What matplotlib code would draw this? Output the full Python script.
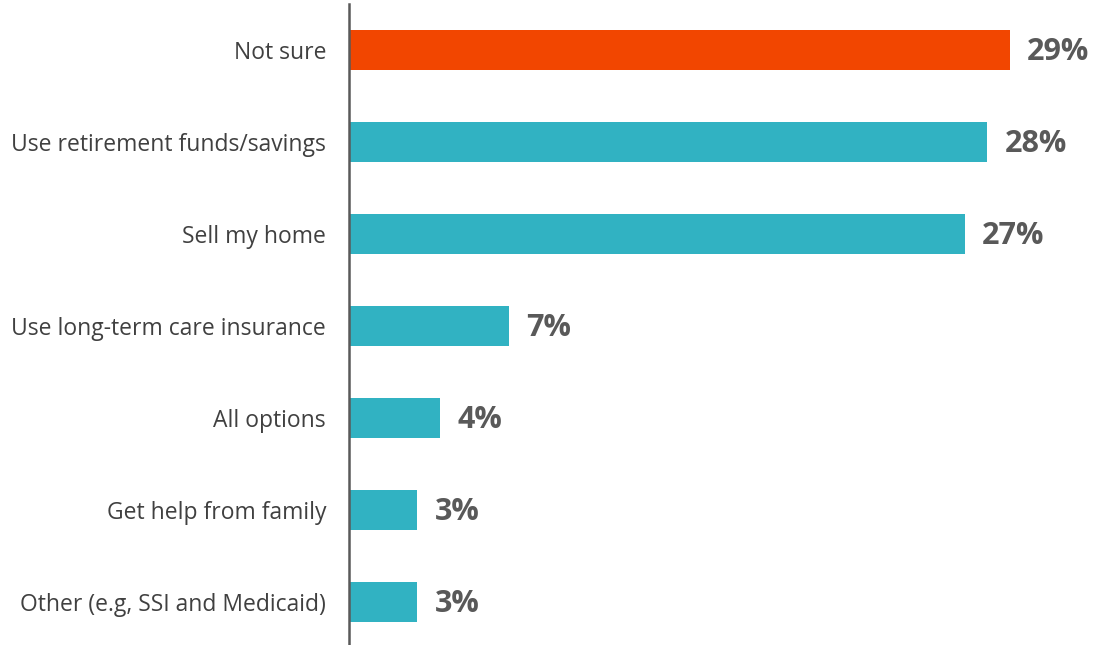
import matplotlib
matplotlib.use("Agg")
import matplotlib.pyplot as plt

categories = [
    "Not sure",
    "Use retirement funds/savings",
    "Sell my home",
    "Use long-term care insurance",
    "All options",
    "Get help from family",
    "Other (e.g, SSI and Medicaid)",
]
values = [29, 28, 27, 7, 4, 3, 3]
highlight = "Not sure"

ORANGE = "#F24600"
TEAL = "#31B2C2"
GRAY = "#595959"

plt.rcParams["font.family"] = ["Open Sans", "DejaVu Sans"]

W, H = 1099, 645
fig = plt.figure(figsize=(W / 100, H / 100), dpi=100)
ax = fig.add_axes([349 / W, 0, 750 / W, 1 - 4 / H])

colors = [ORANGE if c == highlight else TEAL for c in categories]
pos = list(range(len(categories)))
ax.barh(pos, values, height=0.435, color=colors, left=0)

for p, v in zip(pos, values):
    ax.text(v + 0.75, p + 0.02, f"{v}%", va="center", ha="left",
            fontsize=22, fontweight="bold", color=GRAY)

ax.set_xlim(0, 32.9)
ax.set_ylim(6.467, -0.5)
ax.set_yticks(pos)
ax.set_yticklabels(categories, fontsize=16.5, color="#404040")
ax.tick_params(axis="y", length=0, pad=16.5)
ax.set_xticks([])

for s in ["top", "right", "bottom"]:
    ax.spines[s].set_visible(False)
ax.spines["left"].set_color(GRAY)
ax.spines["left"].set_linewidth(1.8)

fig.savefig("out.png", dpi=100)
